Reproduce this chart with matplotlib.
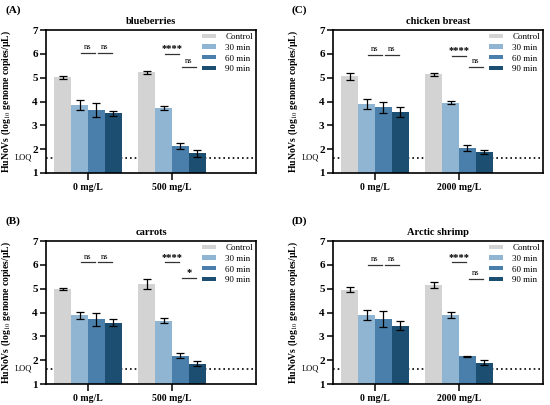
import matplotlib
matplotlib.use('Agg')
import matplotlib.pyplot as plt
import numpy as np

plt.rcParams.update({
    'font.family': ['Liberation Serif', 'DejaVu Serif'],
    'mathtext.fontset': 'stix',
    'axes.linewidth': 1.2,
})

# ---- data ----
series = ['Control', '30 min', '60 min', '90 min']
colors = ['#d3d3d3', '#8fb5d3', '#4a7fac', '#1c4e72']
panel_tags = ['(A)', '(B)', '(C)', '(D)']
titles = ['blueberries', 'carrots', 'chicken breast', 'Arctic shrimp']
doses = [['0 mg/L', '500 mg/L'], ['0 mg/L', '500 mg/L'],
         ['0 mg/L', '2000 mg/L'], ['0 mg/L', '2000 mg/L']]

# means per panel: [group][series]
means_a = [[5.02, 3.85, 3.65, 3.50], [5.22, 3.73, 2.12, 1.82]]
errs_a = [[0.07, 0.22, 0.28, 0.12], [0.08, 0.07, 0.13, 0.14]]
means_b = [[4.98, 3.88, 3.71, 3.58], [5.20, 3.65, 2.18, 1.85]]
errs_b = [[0.05, 0.16, 0.28, 0.16], [0.22, 0.10, 0.10, 0.10]]
means_c = [[5.05, 3.90, 3.75, 3.55], [5.15, 3.95, 2.05, 1.87]]
errs_c = [[0.13, 0.20, 0.25, 0.20], [0.06, 0.07, 0.12, 0.08]]
means_d = [[4.96, 3.90, 3.72, 3.45], [5.15, 3.90, 2.17, 1.90]]
errs_d = [[0.10, 0.20, 0.33, 0.18], [0.13, 0.12, 0.02, 0.12]]
all_means = [means_a, means_b, means_c, means_d]
all_errs = [errs_a, errs_b, errs_c, errs_d]

loq = 1.65

# significance marks: (group, between-bars index, label, height)
sig_a = [(0, 1, 'ns', 6.02), (0, 2, 'ns', 6.02), (1, 1, '****', 6.0), (1, 2, 'ns', 5.45)]
sig_b = [(0, 1, 'ns', 6.1), (0, 2, 'ns', 6.1), (1, 1, '****', 6.1), (1, 2, '*', 5.45)]
sig_c = [(0, 1, 'ns', 5.95), (0, 2, 'ns', 5.95), (1, 1, '****', 5.92), (1, 2, 'ns', 5.46)]
sig_d = [(0, 1, 'ns', 6.0), (0, 2, 'ns', 6.0), (1, 1, '****', 6.1), (1, 2, 'ns', 5.42)]
all_sigs = [sig_a, sig_b, sig_c, sig_d]

# axes rectangles in pixels: left, top (figure is 550x405)
W, H = 550, 405
boxes = [(46, 30), (46, 241), (333, 30), (333, 241)]
aw, ah = 210, 143

fig = plt.figure(figsize=(5.5, 4.05), dpi=100)
bw = 0.2
for p in range(4):
    lx, ty = boxes[p]
    ax = fig.add_axes([lx / W, 1 - (ty + ah) / H, aw / W, ah / H])
    means, errs = all_means[p], all_errs[p]
    for g in range(2):
        for i in range(4):
            x = g + (i - 1.5) * bw
            ax.bar(x, means[g][i], width=bw, bottom=0, color=colors[i],
                   label=series[i] if g == 0 else None, zorder=2)
            ax.errorbar(x, means[g][i], yerr=errs[g][i], fmt='none', ecolor='black',
                        elinewidth=0.9, capsize=3, capthick=0.9, zorder=3)
    ax.axhline(loq, color='black', linestyle=(0, (1, 1.8)), lw=1.2, zorder=1)
    ax.text(-0.065, loq, 'LOQ', transform=ax.get_yaxis_transform(), ha='right',
            va='center', fontsize=6)
    for g, k, lab, h in all_sigs[p]:
        xc = g + (k - 1) * bw
        ax.plot([xc - 0.085, xc + 0.085], [h, h], color='#333333', lw=0.9)
        if lab == 'ns':
            ax.text(xc, h + 0.08, lab, ha='center', va='bottom', fontsize=6)
        else:
            ax.text(xc, h + 0.02, lab, ha='center', va='bottom', fontsize=7.5,
                    fontweight='bold')
    ax.set_xlim(-0.5, 2.0)
    ax.set_ylim(1, 7)
    ax.set_yticks(range(1, 8))
    ax.set_xticks([0, 1])
    ax.set_xticklabels(doses[p], fontweight='bold', fontsize=7)
    for t in ax.get_yticklabels():
        t.set_fontweight('bold')
        t.set_fontsize(8)
    ax.tick_params(axis='y', length=4, width=1.1, pad=2)
    ax.tick_params(axis='x', length=5, width=1.1, pad=2)
    ax.set_ylabel('HuNoVs (log$_{10}$ genome copies/μL)', fontweight='bold',
                  fontsize=7)
    ax.yaxis.set_label_coords(-0.155, 0.5)
    ax.set_title(titles[p], fontweight='bold', fontsize=7.5, pad=4)
    ax.legend(loc='upper right', bbox_to_anchor=(1.0, 1.0), frameon=False,
              fontsize=6.5, handlelength=1.6, handleheight=0.35, labelspacing=0.3,
              borderaxespad=0.0, borderpad=0.35, handletextpad=1.0)
    fig.text((lx - 41) / W, 1 - (ty - 20) / H, panel_tags[p], fontweight='bold',
             fontsize=8, ha='left', va='center')

fig.savefig('out.png', dpi=100)
